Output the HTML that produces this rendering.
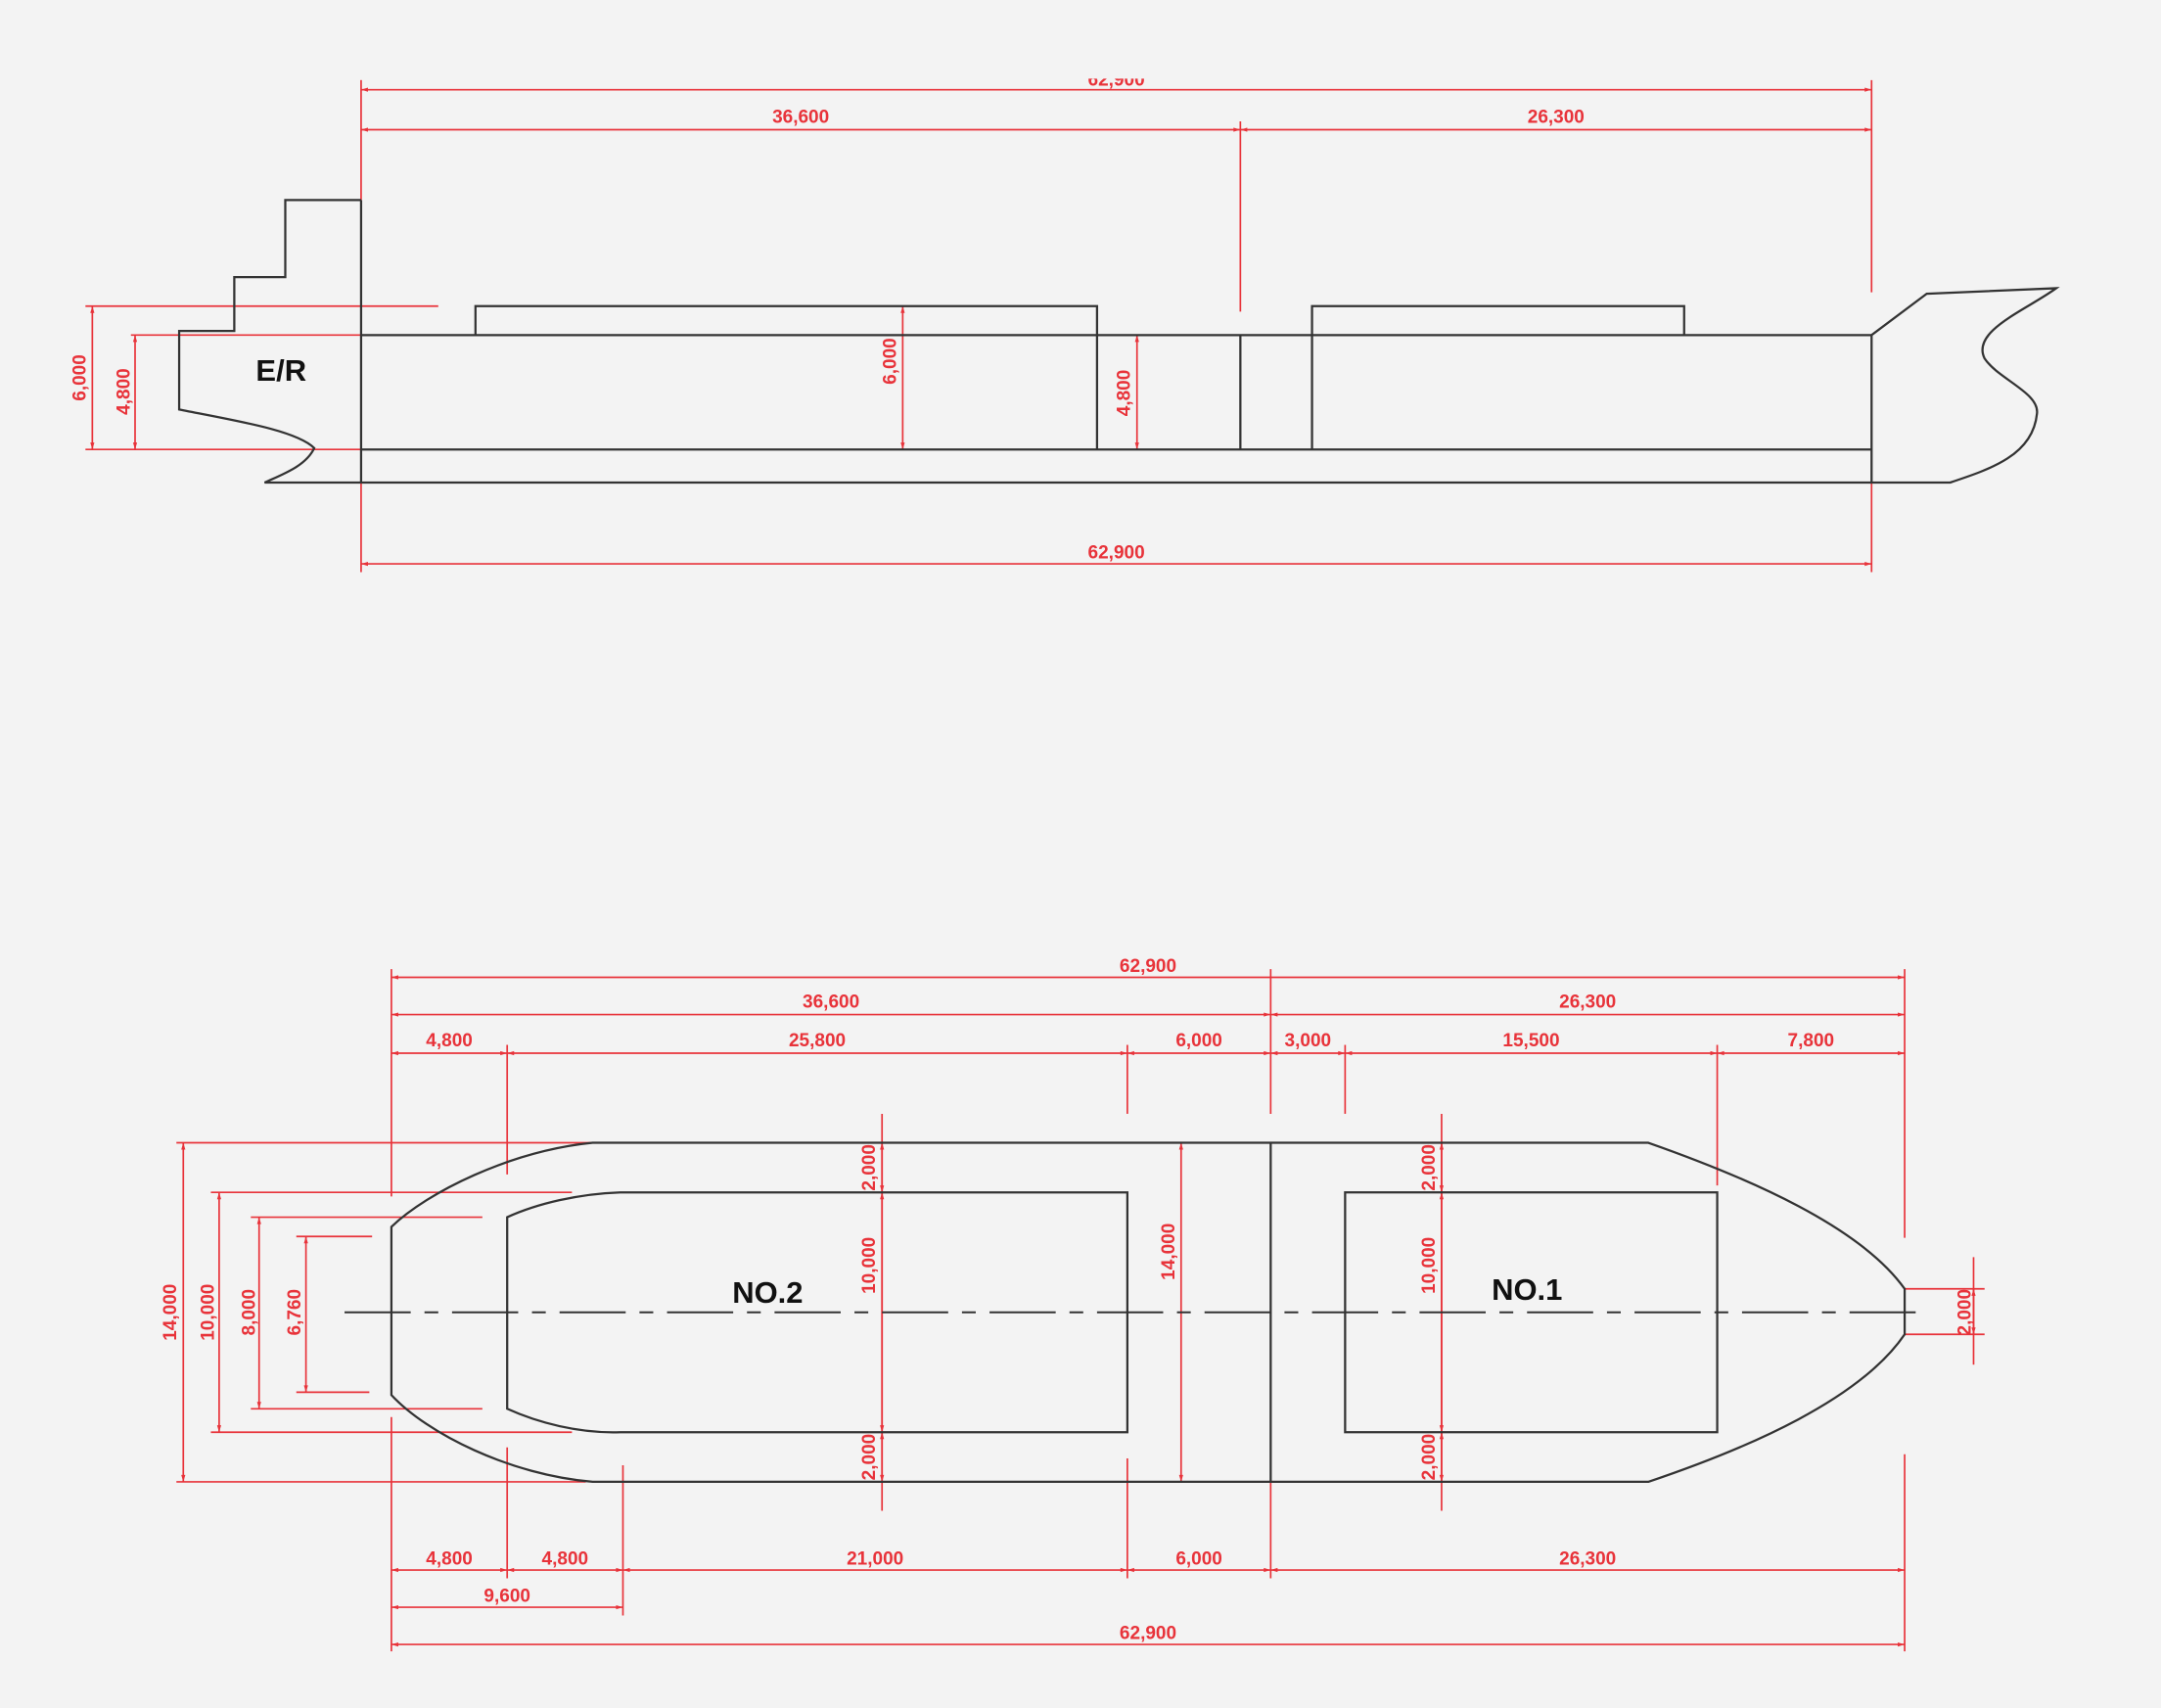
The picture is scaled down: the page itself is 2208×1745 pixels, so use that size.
<!DOCTYPE html>
<html><head><meta charset="utf-8"><style>
html,body{margin:0;padding:0;background:#f3f3f3}
svg{display:block}
.r{stroke:#e8333a;stroke-width:1.2;fill:none}
.d{stroke:#e8333a;stroke-width:1.2;fill:none;marker-start:url(#a);marker-end:url(#a)}
.k{stroke:#333;stroke-width:1.6;fill:none}
.t{fill:#e8333a;font-family:"Liberation Sans",sans-serif;font-size:13.5px;font-weight:bold;text-anchor:middle}
.b{fill:#111;font-family:"Liberation Sans",sans-serif;font-size:22px;font-weight:bold;text-anchor:middle}
</style></head><body>
<svg width="2208" height="1745" viewBox="0 0 1568 1239" xmlns="http://www.w3.org/2000/svg">
<defs>
<marker id="a" viewBox="0 0 10 10" refX="10" refY="5" markerWidth="7" markerHeight="5" orient="auto-start-reverse" markerUnits="userSpaceOnUse"><path d="M0,2L10,5L0,8z" fill="#e8333a"/></marker>
<clipPath id="c"><rect x="0" y="57" width="1568" height="20"/></clipPath>
</defs>
<rect width="1568" height="1239" fill="#f3f3f3"/>

<!-- TOP VIEW -->
<line class="d" x1="262" y1="65" x2="1358" y2="65"/>
<text class="t" x="810" y="62" clip-path="url(#c)">62,900</text>
<line class="d" x1="262" y1="94" x2="900" y2="94"/>
<line class="d" x1="900" y1="94" x2="1358" y2="94"/>
<text class="t" x="581" y="89">36,600</text>
<text class="t" x="1129" y="89">26,300</text>
<line class="r" x1="262" y1="58" x2="262" y2="145"/>
<line class="r" x1="262" y1="350" x2="262" y2="415"/>
<line class="r" x1="900" y1="88" x2="900" y2="226"/>
<line class="r" x1="1358" y1="58" x2="1358" y2="212"/>
<line class="r" x1="1358" y1="350" x2="1358" y2="415"/>
<line class="d" x1="262" y1="409" x2="1358" y2="409"/>
<text class="t" x="810" y="405">62,900</text>

<line class="r" x1="62" y1="222" x2="318" y2="222"/>
<line class="r" x1="95" y1="243" x2="262" y2="243"/>
<line class="r" x1="62" y1="326" x2="262" y2="326"/>
<line class="d" x1="67" y1="222" x2="67" y2="326"/>
<line class="d" x1="98" y1="243" x2="98" y2="326"/>
<text class="t" transform="translate(62,274) rotate(-90)">6,000</text>
<text class="t" transform="translate(94,284) rotate(-90)">4,800</text>
<line class="d" x1="655" y1="222" x2="655" y2="326"/>
<text class="t" transform="translate(650,262) rotate(-90)">6,000</text>
<line class="d" x1="825" y1="243" x2="825" y2="326"/>
<text class="t" transform="translate(820,285) rotate(-90)">4,800</text>

<path class="k" d="M262,145 L207,145 L207,201 L170,201 L170,240 L130,240 L130,297 C170,305 215,312 228,325 C222,338 205,344 192,350 L262,350"/>
<line class="k" x1="262" y1="145" x2="262" y2="350"/>
<line class="k" x1="262" y1="243" x2="1358" y2="243"/>
<line class="k" x1="262" y1="326" x2="1358" y2="326"/>
<line class="k" x1="262" y1="350" x2="1358" y2="350"/>
<path class="k" d="M345,243 L345,222 L796,222 L796,326"/>
<line class="k" x1="900" y1="243" x2="900" y2="326"/>
<path class="k" d="M952,326 L952,222 L1222,222 L1222,243"/>
<path class="k" d="M1358,243 L1398,213 L1492,209 C1470,225 1430,240 1440,260 C1450,275 1480,285 1478,300 C1475,330 1445,340 1415,350 L1358,350 L1358,243"/>
<text class="b" x="204" y="276">E/R</text>

<!-- BOTTOM VIEW -->
<line class="d" x1="284" y1="709" x2="1382" y2="709"/>
<text class="t" x="833" y="705">62,900</text>
<line class="d" x1="284" y1="736" x2="922" y2="736"/>
<line class="d" x1="922" y1="736" x2="1382" y2="736"/>
<text class="t" x="603" y="731">36,600</text>
<text class="t" x="1152" y="731">26,300</text>
<line class="d" x1="284" y1="764" x2="368" y2="764"/>
<line class="d" x1="368" y1="764" x2="818" y2="764"/>
<line class="d" x1="818" y1="764" x2="922" y2="764"/>
<line class="d" x1="922" y1="764" x2="976" y2="764"/>
<line class="d" x1="976" y1="764" x2="1246" y2="764"/>
<line class="d" x1="1246" y1="764" x2="1382" y2="764"/>
<text class="t" x="326" y="759">4,800</text>
<text class="t" x="593" y="759">25,800</text>
<text class="t" x="870" y="759">6,000</text>
<text class="t" x="949" y="759">3,000</text>
<text class="t" x="1111" y="759">15,500</text>
<text class="t" x="1314" y="759">7,800</text>

<line class="r" x1="284" y1="703" x2="284" y2="868"/>
<line class="r" x1="368" y1="758" x2="368" y2="852"/>
<line class="r" x1="818" y1="758" x2="818" y2="808"/>
<line class="r" x1="922" y1="703" x2="922" y2="808"/>
<line class="r" x1="976" y1="758" x2="976" y2="808"/>
<line class="r" x1="1246" y1="758" x2="1246" y2="860"/>
<line class="r" x1="1382" y1="703" x2="1382" y2="898"/>

<line class="r" x1="284" y1="1028" x2="284" y2="1198"/>
<line class="r" x1="368" y1="1050" x2="368" y2="1145"/>
<line class="r" x1="452" y1="1063" x2="452" y2="1172"/>
<line class="r" x1="818" y1="1058" x2="818" y2="1145"/>
<line class="r" x1="922" y1="1075" x2="922" y2="1145"/>
<line class="r" x1="1382" y1="1055" x2="1382" y2="1198"/>

<line class="d" x1="284" y1="1139" x2="368" y2="1139"/>
<line class="d" x1="368" y1="1139" x2="452" y2="1139"/>
<line class="d" x1="452" y1="1139" x2="818" y2="1139"/>
<line class="d" x1="818" y1="1139" x2="922" y2="1139"/>
<line class="d" x1="922" y1="1139" x2="1382" y2="1139"/>
<text class="t" x="326" y="1135">4,800</text>
<text class="t" x="410" y="1135">4,800</text>
<text class="t" x="635" y="1135">21,000</text>
<text class="t" x="870" y="1135">6,000</text>
<text class="t" x="1152" y="1135">26,300</text>
<line class="d" x1="284" y1="1166" x2="452" y2="1166"/>
<text class="t" x="368" y="1162">9,600</text>
<line class="d" x1="284" y1="1193" x2="1382" y2="1193"/>
<text class="t" x="833" y="1189">62,900</text>

<line class="r" x1="128" y1="829" x2="430" y2="829"/>
<line class="r" x1="128" y1="1075" x2="425" y2="1075"/>
<line class="r" x1="153" y1="865" x2="415" y2="865"/>
<line class="r" x1="153" y1="1039" x2="415" y2="1039"/>
<line class="r" x1="182" y1="883" x2="350" y2="883"/>
<line class="r" x1="182" y1="1022" x2="350" y2="1022"/>
<line class="r" x1="215" y1="897" x2="270" y2="897"/>
<line class="r" x1="215" y1="1010" x2="268" y2="1010"/>
<line class="d" x1="133" y1="829" x2="133" y2="1075"/>
<line class="d" x1="159" y1="865" x2="159" y2="1039"/>
<line class="d" x1="188" y1="883" x2="188" y2="1022"/>
<line class="d" x1="222" y1="897" x2="222" y2="1010"/>
<text class="t" transform="translate(128,952) rotate(-90)">14,000</text>
<text class="t" transform="translate(155,952) rotate(-90)">10,000</text>
<text class="t" transform="translate(185,952) rotate(-90)">8,000</text>
<text class="t" transform="translate(218,952) rotate(-90)">6,760</text>

<line class="r" x1="640" y1="808" x2="640" y2="1096"/>
<line class="d" x1="640" y1="829" x2="640" y2="865"/>
<line class="d" x1="640" y1="865" x2="640" y2="1039"/>
<line class="d" x1="640" y1="1039" x2="640" y2="1075"/>
<text class="t" transform="translate(635,847) rotate(-90)">2,000</text>
<text class="t" transform="translate(635,918) rotate(-90)">10,000</text>
<text class="t" transform="translate(635,1057) rotate(-90)">2,000</text>
<line class="r" x1="1046" y1="808" x2="1046" y2="1096"/>
<line class="d" x1="1046" y1="829" x2="1046" y2="865"/>
<line class="d" x1="1046" y1="865" x2="1046" y2="1039"/>
<line class="d" x1="1046" y1="1039" x2="1046" y2="1075"/>
<text class="t" transform="translate(1041,847) rotate(-90)">2,000</text>
<text class="t" transform="translate(1041,918) rotate(-90)">10,000</text>
<text class="t" transform="translate(1041,1057) rotate(-90)">2,000</text>
<line class="d" x1="857" y1="829" x2="857" y2="1075"/>
<text class="t" transform="translate(852,908) rotate(-90)">14,000</text>
<line class="r" x1="1382" y1="935" x2="1440" y2="935"/>
<line class="r" x1="1382" y1="968" x2="1440" y2="968"/>
<line class="r" x1="1432" y1="912" x2="1432" y2="990"/>
<line class="d" x1="1432" y1="935" x2="1432" y2="968"/>
<text class="t" transform="translate(1430,952) rotate(-90)">2,000</text>

<path class="k" d="M430,829 L1196,829 C1270,855 1350,890 1382,935 L1382,968 C1350,1015 1270,1050 1196,1075 L430,1075 C370,1070 310,1040 284,1012 L284,890 C310,865 370,835 430,829 Z"/>
<path class="k" d="M450,865 L818,865 L818,1039 L450,1039 C420,1040 390,1032 368,1022 L368,883 C390,873 420,866 450,865 Z"/>
<rect class="k" x="976" y="865" width="270" height="174"/>
<line class="k" x1="922" y1="829" x2="922" y2="1075"/>
<line x1="250" y1="952" x2="1395" y2="952" stroke="#333" stroke-width="1.4" stroke-dasharray="48,10,10,10"/>
<text class="b" x="557" y="945">NO.2</text>
<text class="b" x="1108" y="943">NO.1</text>
</svg>
</body></html>
